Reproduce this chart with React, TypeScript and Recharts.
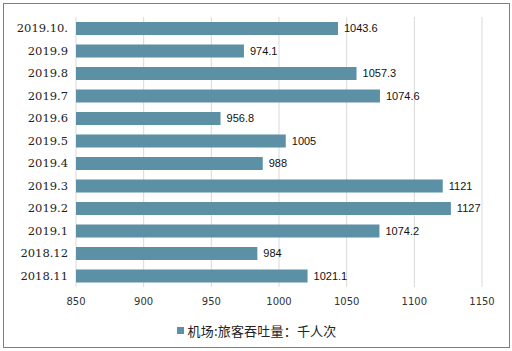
import React from 'react';
import { BarChart, Bar, XAxis, YAxis, CartesianGrid, Legend, LabelList } from 'recharts';

const categories = ['2019.10.', '2019.9', '2019.8', '2019.7', '2019.6', '2019.5', '2019.4', '2019.3', '2019.2', '2019.1', '2018.12', '2018.11'];
const values = [1043.6, 974.1, 1057.3, 1074.6, 956.8, 1005, 988, 1121, 1127, 1074.2, 984, 1021.1];
const xTicks = [850, 900, 950, 1000, 1050, 1100, 1150];
const seriesName = '机场:旅客吞吐量：千人次';

const data = categories.map((c, i) => ({ name: c, value: values[i] }));

const BAR_COLOR = '#5b90a5';

const renderLegend = () => (
  <div style={{ display: 'flex', justifyContent: 'center', alignItems: 'center', height: 20, paddingLeft: 28 }}>
    <span style={{ display: 'inline-block', width: 7, height: 7, background: BAR_COLOR, marginRight: 3 }} />
    <span style={{ fontFamily: '"Noto Sans CJK SC", sans-serif', fontSize: 13, letterSpacing: 0.2, color: '#222' }}>{seriesName}</span>
  </div>
);

export default function App() {
  return (
    <div style={{ position: 'absolute', left: 3, top: 3, width: 505, height: 343, border: '1px solid #7f7f7f', background: '#fff' }}>
      <BarChart
        width={505}
        height={343}
        data={data}
        layout="vertical"
        margin={{ top: 13, right: 27, left: 0, bottom: 7 }}
        barSize={13}
      >
        <CartesianGrid horizontal={false} stroke="#d9d9d9" />
        <XAxis
          type="number"
          domain={[850, 1150]}
          ticks={xTicks}
          axisLine={false}
          tickLine={false}
          height={33}
          tickMargin={5}
          tick={{ fontFamily: '"DejaVu Sans", sans-serif', fontSize: 10, fill: '#333' }}
          allowDataOverflow
        />
        <YAxis
          type="category"
          dataKey="name"
          width={72}
          axisLine={false}
          tickLine={false}
          tick={{ fontFamily: '"DejaVu Serif", serif', fontSize: 11.5, fill: '#222' }}
        />
        <Legend verticalAlign="bottom" height={20} content={renderLegend} />
        <Bar dataKey="value" name={seriesName} fill={BAR_COLOR} isAnimationActive={false}>
          <LabelList dataKey="value" position="right" offset={6} style={{ fontFamily: '"Liberation Sans", Arial, sans-serif', fontSize: 11, fill: '#111' }} />
        </Bar>
      </BarChart>
    </div>
  );
}
